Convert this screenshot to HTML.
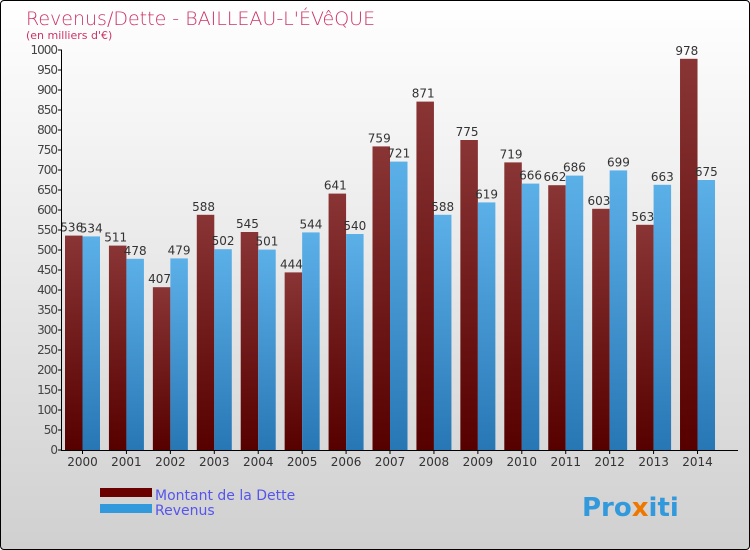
<!DOCTYPE html>
<html><head><meta charset="utf-8"><style>
html,body{margin:0;padding:0}
body{width:750px;height:550px;overflow:hidden;font-family:"DejaVu Sans","Liberation Sans",sans-serif}
#frame{position:absolute;left:0;top:0;width:748px;height:548px;border:1px solid #000;border-radius:4px;background:linear-gradient(#ffffff,#d0d0d0)}
</style></head><body>
<div id="frame"></div>
<svg id="chart" width="750" height="550" style="position:absolute;left:0;top:0">
<defs>
<linearGradient id="gd" x1="0" y1="0" x2="0" y2="1"><stop offset="0" stop-color="#8a3535"/><stop offset="1" stop-color="#560000"/></linearGradient>
<linearGradient id="gb" x1="0" y1="0" x2="0" y2="1"><stop offset="0" stop-color="#5cb0e8"/><stop offset="1" stop-color="#2877b5"/></linearGradient>
</defs>
<text x="26" y="25" font-size="19" fill="#cc3366" font-family="DejaVu Sans, sans-serif" font-weight="200">Revenus/Dette - BAILLEAU-L'ÉVêQUE</text>
<text x="26" y="39" font-size="11" fill="#cc3366">(en milliers d'€)</text>
<g id="plot"></g>
<rect x="100" y="488" width="52" height="9" fill="#6a0000"/>
<rect x="100" y="504" width="52" height="9" fill="#3399dd"/>
<text x="155" y="500" font-size="14" fill="#5555ee">Montant de la Dette</text>
<text x="155" y="515" font-size="14" fill="#5555ee">Revenus</text>
<text x="582" y="516" font-size="26" font-weight="bold" fill="#3399dd"><tspan fill="#3399dd">Pro</tspan><tspan fill="#ee7700">x</tspan><tspan fill="#3399dd">iti</tspan></text>
</svg>
<script>
const years=["2000","2001","2002","2003","2004","2005","2006","2007","2008","2009","2010","2011","2012","2013","2014"];
const dette=[536,511,407,588,545,444,641,759,871,775,719,662,603,563,978];
const revenus=[534,478,479,502,501,544,540,721,588,619,666,686,699,663,675];
const yTicks=[0,50,100,150,200,250,300,350,400,450,500,550,600,650,700,750,800,850,900,950,1000];
const NS="http://www.w3.org/2000/svg";
const g=document.getElementById('plot');
const y0=450,yScale=0.4,x0=65,step=43.93,bw=17.5;
function Y(v){return y0-v*yScale;}
function X(i){return x0+i*step;}
function mk(t,a){const e=document.createElementNS(NS,t);for(const k in a)e.setAttribute(k,a[k]);g.appendChild(e);return e;}
years.forEach((yr,i)=>{
 let r=mk('rect',{x:X(i),y:Y(dette[i]),width:bw,height:dette[i]*yScale,fill:'url(#gd)'});
 
 
 let b=mk('rect',{x:X(i)+bw,y:Y(revenus[i]),width:bw,height:revenus[i]*yScale,fill:'url(#gb)'});
 
 
 let t1=mk('text',{x:X(i)+bw/2-2,y:Y(dette[i])-4,'font-size':12,'text-anchor':'middle',fill:'#333'});t1.textContent=dette[i];
 
 
 let t2=mk('text',{x:X(i)+bw*1.5,y:Y(revenus[i])-4,'font-size':12,'text-anchor':'middle',fill:'#333'});t2.textContent=revenus[i];
 
 
 let xl=mk('text',{x:X(i)+bw,y:466,'font-size':12,'text-anchor':'middle',fill:'#333'});xl.textContent=yr;
 
 
 let tk=mk('line',{x1:X(i)+bw,x2:X(i)+bw,y1:450,y2:454,stroke:'#000'});
 
 
});
yTicks.forEach(v=>{
 let l=mk('line',{x1:58,x2:62,y1:Y(v),y2:Y(v),stroke:'#000'});
 
 
 let t=mk('text',{x:57,y:Y(v)+4,'font-size':12,'text-anchor':'end',fill:'#444','letter-spacing':'-1'});t.textContent=v;
 
 
});
let ya=mk('line',{x1:61.5,x2:61.5,y1:50,y2:450,stroke:'#000'});


let xa=mk('line',{x1:61,x2:738,y1:450.5,y2:450.5,stroke:'#000'});


</script>
</body></html>
